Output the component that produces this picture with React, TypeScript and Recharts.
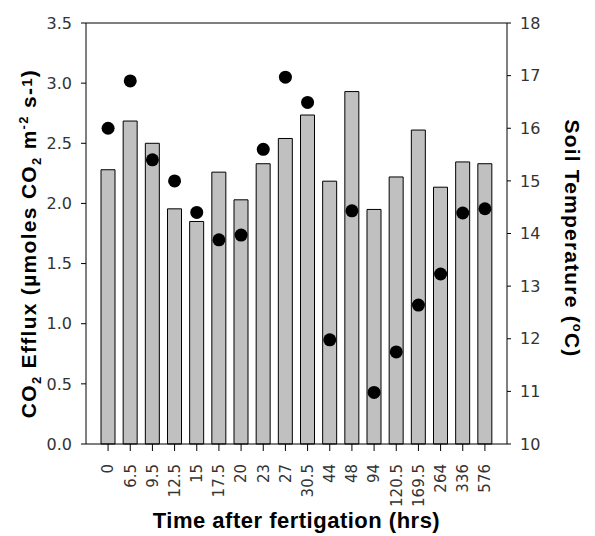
import React from 'react';
import { ComposedChart, Bar, Line, XAxis, YAxis, ReferenceLine, Label } from 'recharts';

const times = ['0', '6.5', '9.5', '12.5', '15', '17.5', '20', '23', '27', '30.5', '44', '48', '94', '120.5', '169.5', '264', '336', '576'];
const co2Efflux = [2.28, 2.685, 2.5, 1.955, 1.85, 2.26, 2.03, 2.33, 2.54, 2.735, 2.185, 2.93, 1.95, 2.22, 2.61, 2.135, 2.345, 2.33];
const soilTemp = [16.0, 16.9, 15.4, 15.0, 14.4, 13.88, 13.97, 15.6, 16.97, 16.49, 11.98, 14.43, 10.98, 11.75, 12.64, 13.23, 14.39, 14.47];
const co2Ticks = [0, 0.5, 1, 1.5, 2, 2.5, 3, 3.5];
const tempTicks = [10, 11, 12, 13, 14, 15, 16, 17, 18];

const data = times.map((t, i) => ({ time: t, co2: co2Efflux[i], temp: soilTemp[i] }));

const tickFont = { fontFamily: 'DejaVu Sans', fontSize: 16, fill: '#333' };
const titleFont = { fontFamily: 'Liberation Sans, Arial, sans-serif', fontSize: 21, fontWeight: 'bold', fill: '#000' };

const XTick = (props: any) => {
  const { x, y, payload } = props;
  return (
    <g transform={`translate(${x},${y})`}>
      <text transform="rotate(-90)" x={-11} y={0} dy="0.36em" textAnchor="end" fontFamily="DejaVu Sans" fontSize={15} fill="#333">
        {payload.value}
      </text>
    </g>
  );
};

const LeftTitle = (props: any) => {
  const vb = props.viewBox;
  const cx = vb.x + 28;
  const cy = vb.y + vb.height / 2 + 10;
  return (
    <text x={cx} y={cy} dy="0.36em" transform={`rotate(-90, ${cx}, ${cy})`} textAnchor="middle" letterSpacing={1.3} {...titleFont}>
      <tspan>CO</tspan>
      <tspan fontSize={13} dy={5}>2</tspan>
      <tspan dy={-5}> Efflux (µmoles CO</tspan>
      <tspan fontSize={13} dy={5}>2</tspan>
      <tspan dy={-5}> m</tspan>
      <tspan fontSize={13} dy={-8}>-2</tspan>
      <tspan dy={8}> s-</tspan>
      <tspan fontSize={15} dy={-4}>1</tspan>
      <tspan dy={4}>)</tspan>
    </text>
  );
};

const RightTitle = (props: any) => {
  const vb = props.viewBox;
  const cx = 573;
  const cy = vb.y + vb.height / 2 + 5;
  return (
    <text x={cx} y={cy} dy="0.36em" transform={`rotate(90, ${cx}, ${cy})`} textAnchor="middle" letterSpacing={1.2} {...titleFont}>
      <tspan>Soil Temperature (</tspan>
      <tspan fontSize={13} dy={-8}>o</tspan>
      <tspan dy={8}>C)</tspan>
    </text>
  );
};

const BottomTitle = (props: any) => {
  const vb = props.viewBox;
  return (
    <text x={vb.x + vb.width / 2} y={528} textAnchor="middle" letterSpacing={0.5} {...titleFont} fontSize={22}>
      Time after fertigation (hrs)
    </text>
  );
};

export default function App() {
  return (
    <div style={{ position: 'absolute', left: 0, top: 0, background: '#fff' }}>
      <ComposedChart width={595} height={536} data={data} margin={{ top: 23, right: 0, left: 0, bottom: 0 }}>
        <XAxis
          dataKey="time"
          height={92}
          interval={0}
          padding={{ left: 11, right: 11 }}
          tick={<XTick />}
          tickSize={7}
          stroke="#000"
          tickLine={{ stroke: '#000' }}
          axisLine={{ stroke: '#000' }}
        >
          <Label content={<BottomTitle />} />
        </XAxis>
        <YAxis
          yAxisId="left"
          domain={[0, 3.5]}
          ticks={co2Ticks}
          width={86}
          tickSize={5}
          tickMargin={9}
          tickFormatter={(v: number) => v.toFixed(1)}
          tick={tickFont}
          stroke="#000"
          interval={0}
        >
          <Label content={<LeftTitle />} />
        </YAxis>
        <YAxis
          yAxisId="right"
          orientation="right"
          domain={[10, 18]}
          ticks={tempTicks}
          width={88}
          tickSize={4}
          tickMargin={9}
          tick={tickFont}
          stroke="#000"
          interval={0}
        >
          <Label content={<RightTitle />} />
        </YAxis>
        <ReferenceLine yAxisId="left" y={3.5} stroke="#000" />
        <Bar yAxisId="left" dataKey="co2" barSize={14} fill="#c0c0c0" stroke="#000" strokeWidth={1} isAnimationActive={false} />
        <Line
          yAxisId="right"
          dataKey="temp"
          stroke="none"
          dot={{ r: 6.5, fill: '#000', stroke: '#000', strokeWidth: 0 }}
          activeDot={false}
          isAnimationActive={false}
        />
      </ComposedChart>
    </div>
  );
}
